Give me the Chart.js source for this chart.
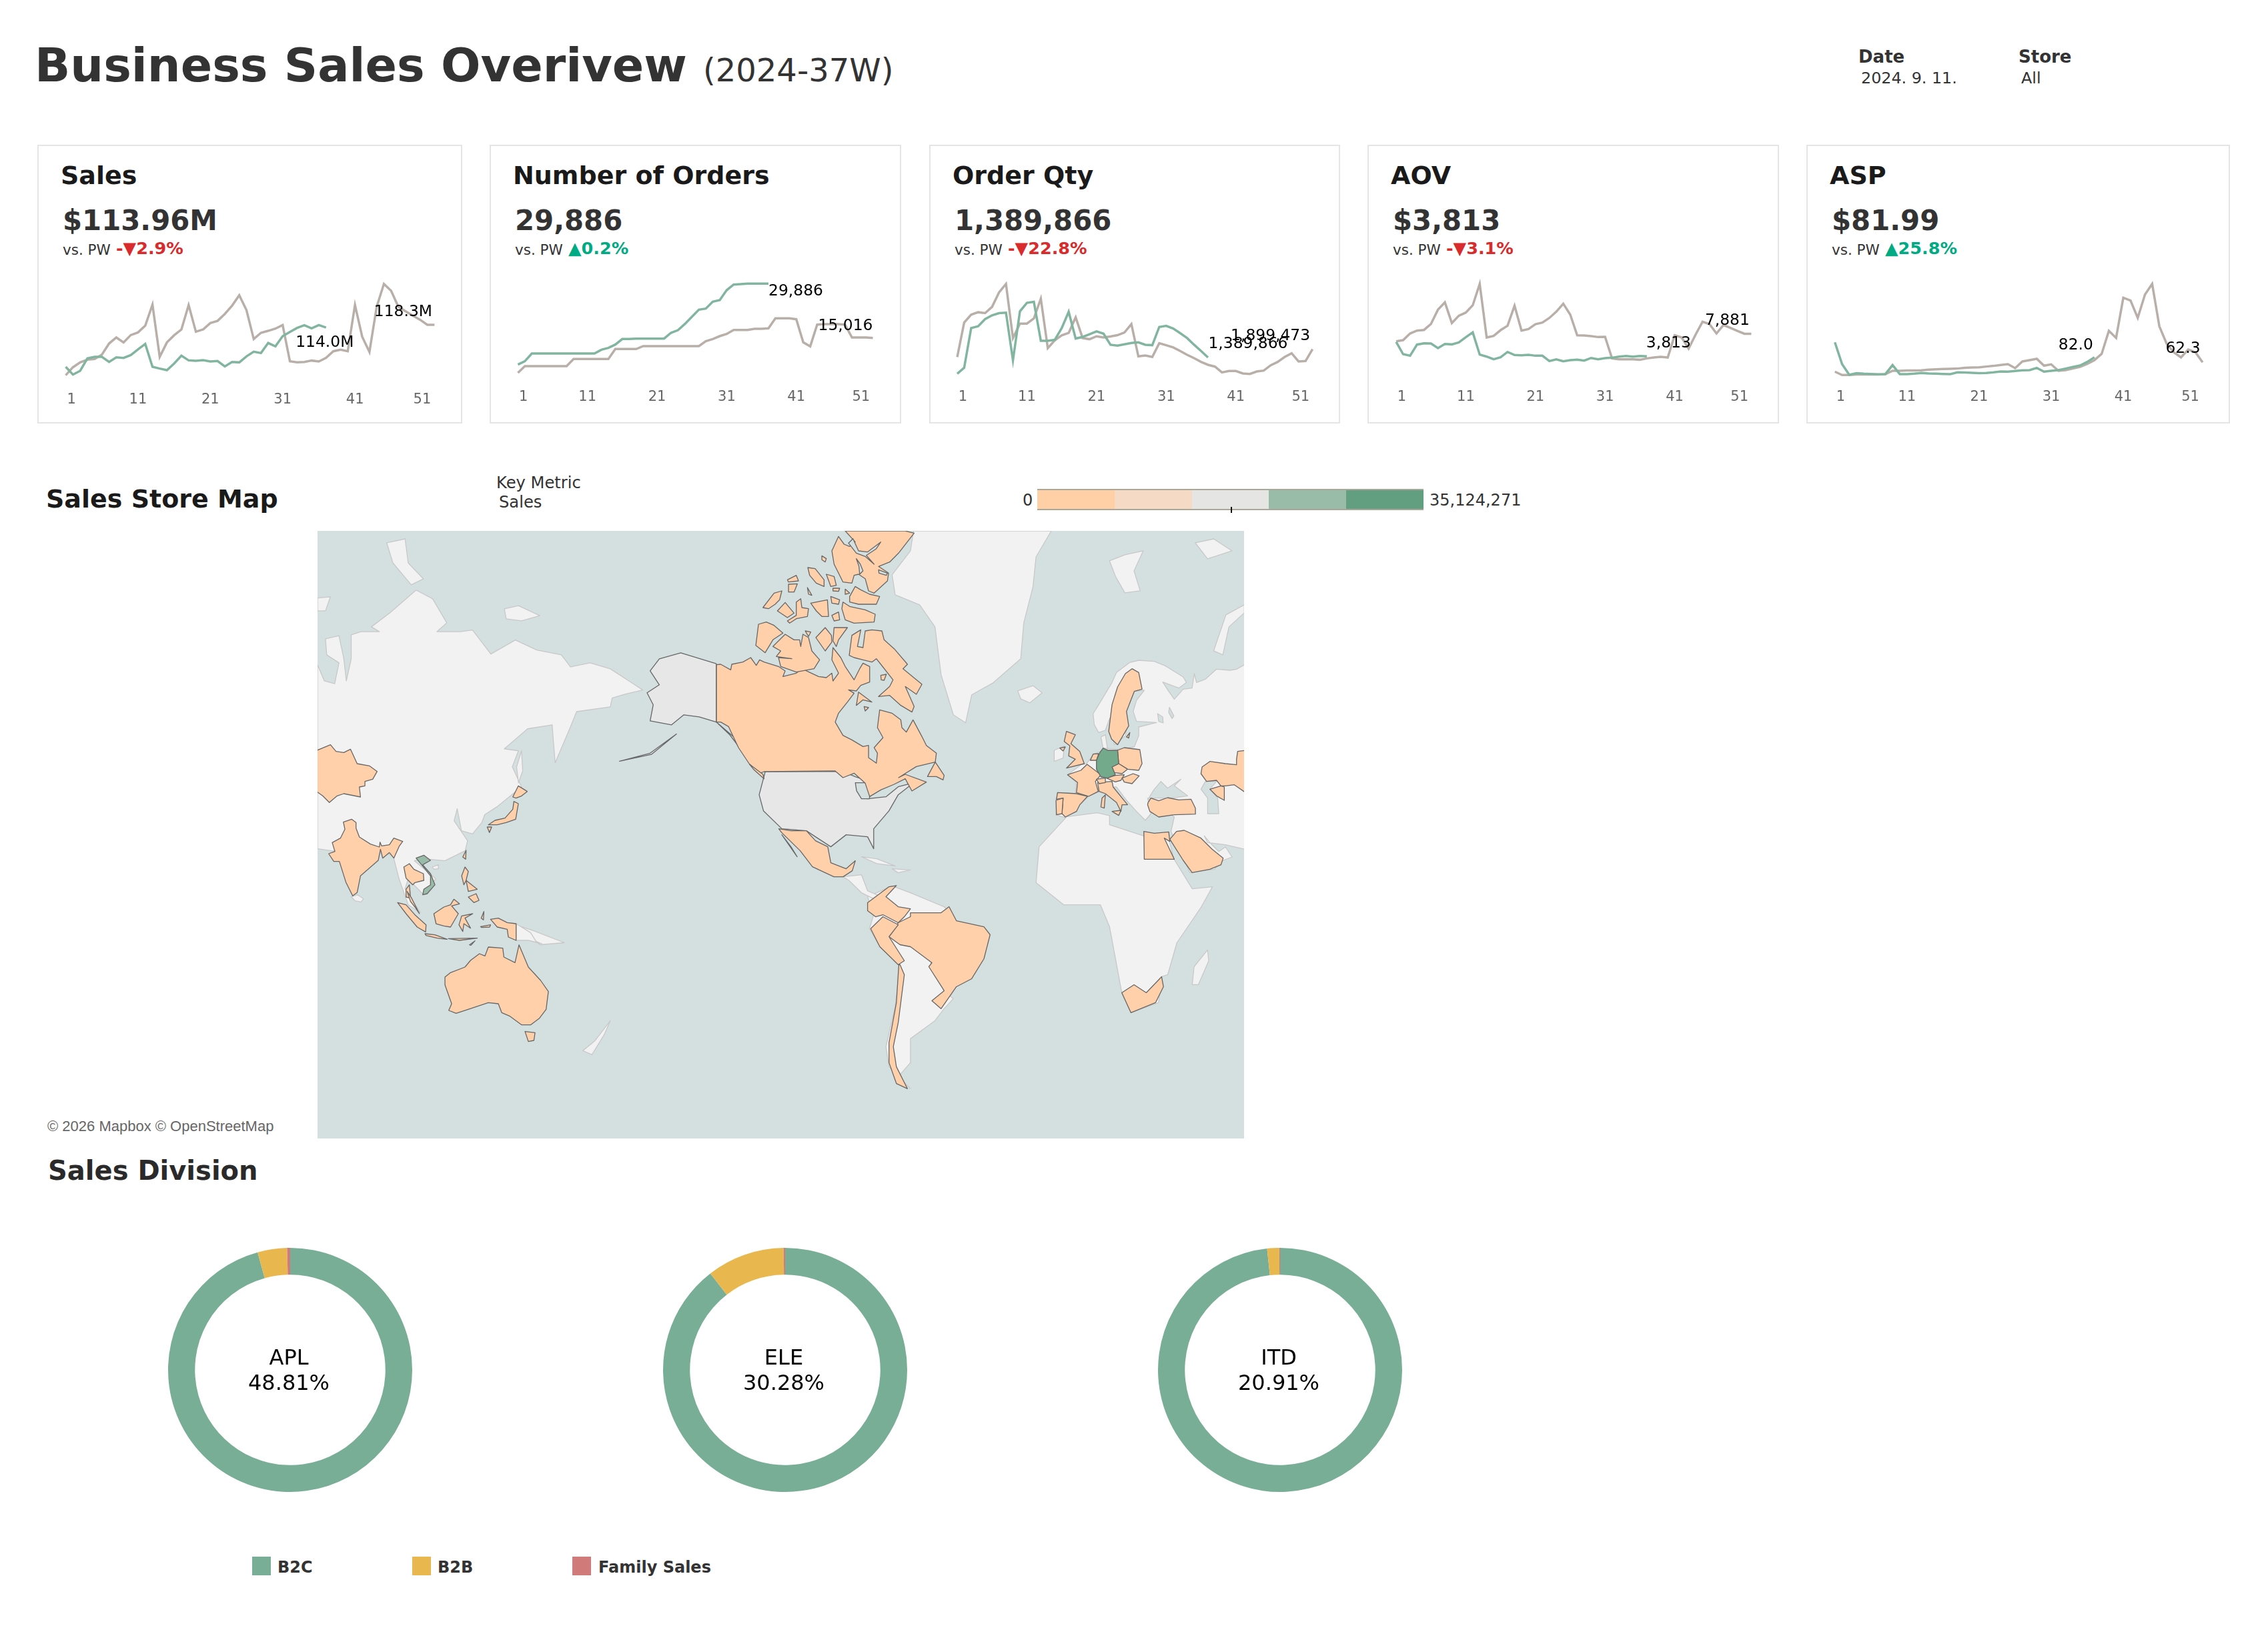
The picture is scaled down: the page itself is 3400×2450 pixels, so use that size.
<!DOCTYPE html>
<html>
<head>
<meta charset="utf-8">
<title>Business Sales Overview</title>
<script src="https://cdn.jsdelivr.net/npm/chart.js@4"></script>
<style>
  html, body { margin: 0; padding: 0; background: #fff; }
  body { position: relative; width: 3400px; height: 2450px; overflow: hidden; font-family: "DejaVu Sans", sans-serif; }
  .txt { position: absolute; line-height: 1; white-space: pre; }
  .card { position: absolute; box-sizing: border-box; border: 2px solid #e5e5e5; }
  canvas { position: absolute; }
  .legend-bar { position: absolute; left: 1555px; top: 733px; width: 579px; height: 32px; box-sizing: border-box; display: flex; border-top: 2px solid #aaa698; border-bottom: 2px solid #aaa698; }
  .legend-bar div { flex: 1; }
  .swatch { position: absolute; width: 28px; height: 28px; top: 2334px; }
</style>
</head>
<body>
<script>
// ---- data ----
const weeks = [1,2,3,4,5,6,7,8,9,10,11,12,13,14,15,16,17,18,19,20,21,22,23,24,25,26,27,28,29,30,31,32,33,34,35,36,37,38,39,40,41,42,43,44,45,46,47,48,49,50,51,52];
const tickWeeks = [1, 11, 21, 31, 41, 51];

const salesNow = [50.6,38.1,44.2,64.2,66.7,66.7,58.5,66.0,65.0,69.6,78.6,87.5,50.6,47.8,45.3,56.0,68.5,61.0,60.3,61.4,59.2,60.0,51.3,58.5,57.8,67.5,75.0,72.8,89.0,83.6,100.0,106.8,113.3,117.6,112.6,117.9,114.0];
const salesPrev = [37.0,49.9,57.8,62.1,63.2,70.3,88.2,97.9,90.0,101.8,106.1,116.9,150.9,66.7,90.0,101.5,110.8,150.2,107.2,110.8,121.2,124.7,135.8,149.1,165.9,141.9,95.4,105.4,108.6,112.2,117.9,59.6,57.8,58.5,60.7,59.2,65.0,75.7,78.2,75.7,150.2,99.0,74.6,147.3,184.2,173.1,147.3,140.1,133.0,126.5,118.3,118.3];

const ordersNow = [7708,8621,10753,10753,10753,10753,10753,10753,10753,10753,10753,10753,11788,12275,13189,14711,14711,14833,14833,14833,14833,14833,16417,17148,18853,20802,22750,23055,24943,25369,28110,29632,29754,29886,29886,29886,29886];
const ordersPrev = [5455,7282,7282,7282,7282,7282,7282,7282,9230,9230,9230,9230,9230,9230,11971,11971,11971,11971,12763,12763,12763,12763,12763,12763,12763,12763,12763,14102,14711,15503,16112,17208,17208,17208,17513,17513,17635,20375,20375,20375,20132,13798,12702,18670,18792,18792,18792,18670,15138,15138,15138,15016];

// order qty in thousands
const qtyNow = [385,757,3208,3318,3758,3993,4130,4158,1211,4240,4764,4833,2423,2423,2478,3208,4213,2560,2657,2822,3001,2863,2175,2120,2202,2285,2326,2175,2147,3276,3345,3180,2891,2588,2175,1789,1390];
const qtyPrev = [1418,3552,4034,4185,4130,4516,5411,5934,2588,3483,3483,3800,5025,1968,2450,2753,2905,3869,2588,2519,2698,2629,2684,2767,2932,3456,1459,1514,1418,2271,2147,2010,1789,1555,1349,1115,936,825,467,550,550,399,371,522,578,908,1115,1418,1652,1142,1170,1899];

const aovNow = [6407,4212,3933,5928,6167,6127,5289,6047,5968,6327,7244,8122,4132,3773,3294,3653,4611,4052,4013,4092,3933,3933,2975,3294,2935,3135,3214,3055,3534,3294,3494,3574,3773,3893,3773,3893,3813];
const aovPrev = [6526,6726,7923,8441,8561,9638,12192,13509,9798,11115,11673,12990,16820,7205,7484,8521,9319,12910,8441,8721,9599,9878,10716,11833,13269,11314,7604,7564,7444,7284,7324,3454,3294,3294,3294,3214,3454,3613,3733,3613,7604,7205,5210,7723,10037,9599,7923,9439,8920,8402,7881,7881];

const aspNow = [139.4,55.4,14.3,20.3,18.6,17.7,16.0,16.9,52.0,16.9,16.9,18.6,21.2,19.4,18.6,17.7,16.9,23.7,22.9,22.0,20.3,21.2,23.7,27.2,26.3,28.9,31.4,32.3,40.9,26.3,29.7,32.3,38.3,44.3,50.3,64.0,82.0];
const aspPrev = [26.3,13.4,13.4,15.2,15.2,15.2,15.2,16.9,29.7,29.7,30.6,30.6,31.4,34.0,35.7,36.6,37.4,38.3,40.9,42.6,43.4,46.0,48.6,52.0,55.4,40.0,65.7,70.9,76.0,49.4,54.6,29.7,32.3,38.3,45.1,56.3,70.9,94.9,184.0,156.6,311.7,300.5,233.7,323.7,364.8,201.1,135.1,100.9,81.1,112.0,100.9,62.3];

const divisionNames = ["APL", "ELE", "ITD"];
const divisionShares = ["48.81%", "30.28%", "20.91%"];
const channelNames = ["B2C", "B2B", "Family Sales"];
const aplChannels = [95.7, 3.9, 0.4];
const eleChannels = [89.5, 10.3, 0.2];
const itdChannels = [98.3, 1.6, 0.1];

// map outlines, as x,y pairs; each group has its own sheet
const z6Land = [
  [17,805,17,345,28,385,45,392,52,340,32,320,30,280,52,272,60,330,64,385,72,330,72,270,88,262,118,262,105,250,135,215,178,158,205,180,228,240,212,262,250,262,270,258,300,318,340,283,375,308,415,320,430,350,462,340,495,355,530,390,548,408,520,418,498,428,495,450,440,462,430,500,405,590,402,535,400,495,360,505,322,555,345,560,335,600,350,650,310,700,290,720,285,740,270,768,252,760,245,705,240,735,262,785,258,810,225,835,190,830,175,835,210,880,190,920,165,880,160,905,185,965,165,945,150,880,140,820,120,815,40,810],
  [1215,10,1190,75,1185,150,1170,240,1165,330,1120,390,1085,420,1075,490,1055,470,1035,370,1025,250,1000,195,960,170,955,120,985,60,990,10],
  [1240,725,1290,715,1310,722,1310,745,1370,775,1405,770,1415,830,1445,905,1478,900,1460,950,1420,1040,1405,1120,1395,1125,1390,1190,1345,1215,1330,1165,1310,1000,1295,945,1235,945,1190,890,1195,800],
  [915,925,955,898,985,915,1040,950,1060,985,985,975,965,995,950,1025,968,1045,1015,1045,1020,1110,1040,1160,1055,1180,1040,1205,1025,1235,985,1280,985,1340,965,1375,985,1405,950,1350,945,1300,960,1200,968,1095,935,1050,918,1005,925,970],
  [875,875,905,870,915,910,930,920,945,925,925,930,905,915,885,885],
  [905,825,930,830,960,848,930,842],[955,855,985,858,965,865],
  [1160,410,1185,397,1200,415,1180,440,1165,430],
  [1310,85,1335,70,1365,60,1350,110,1360,160,1335,165,1320,125],
  [1480,310,1500,220,1530,195,1530,215,1505,250,1495,320],
  [1450,40,1480,30,1510,60,1470,80],
  [130,40,160,30,165,90,190,130,170,145,140,90],
  [322,205,345,197,380,222,350,235,325,230],
  [17,178,38,175,30,210,17,210],
  [72,925,82,920,92,930,88,938,78,935],
  [1445,1145,1448,1100,1470,1058,1472,1085,1455,1145],
  [450,1310,470,1285,495,1235,485,1270,465,1320],
  [380,1045,340,995,370,1010,420,1040],
  [350,560,352,610,345,640,342,600],
  [1378,1175,1390,1170,1385,1185]
];
const z9Land = [
  [925,15,880,40,850,45,790,40,740,85,700,100,690,60,680,125,640,130,600,175,575,140,548,98,620,125,655,100,640,75,560,25,510,5,440,0,400,10,340,55,320,100,260,200,235,240,240,290,260,325,290,315,310,260,330,380,380,340,390,280,375,240,420,140,465,135,430,180,415,230,430,275,520,280,440,300,440,340,420,390,345,400,280,395,270,345,290,335,300,400,240,420,205,465,180,470,120,515,160,550,155,600,75,595,68,695,110,708,175,650,215,612,265,590,320,570,340,570,385,630,430,680,470,720,495,690,480,620,600,705,585,770,670,955,780,940,820,900,860,885,830,840,800,860,760,820,735,790,750,820,830,830,925,852],
  [60,405,105,385,100,440,60,455]
];
const z9Water = [
  [485,620,510,580,540,545,570,575,630,535,600,565,660,610,585,620,530,620],
  [740,545,790,545,760,580,795,620,800,690,750,690,750,620,720,580],
  [525,240,548,255,550,282,530,275],[578,212,598,250,590,262,575,235]
];
const z6Water = [
  [895,640,920,640,918,680,905,680,897,660]
];
const z10Water = [
  [595,35,620,90,660,95,720,50,700,80,655,110,690,150,650,115,610,100,575,55],
  [610,125,628,150,640,180,625,195,622,160],
  [710,175,750,190,745,200,712,190]
];
const z6Stores = [
  [985,975,985,965,1035,965,1048,950,1060,985,1105,1000,1115,1020,1105,1080,1085,1130,1060,1150,1035,1205,1020,1185,1040,1160,1015,1100,1020,1090,985,1050,968,1045,950,1025,965,990],
  [920,1005,940,975,965,995,950,1025,975,1085,965,1095,935,1050],
  [915,940,950,900,962,897,945,925,965,950,985,955,975,975,965,990,940,970,928,975,915,960],
  [968,1095,975,1120,965,1240,957,1300,962,1350,980,1405,962,1392,950,1340,950,1290,962,1190,966,1095],
  [770,755,790,760,815,760,830,785,850,800,855,840,880,855,895,835,890,860,875,875,860,875,825,850,805,810,775,765],
  [775,770,800,825,790,800],
  [1345,1215,1330,1165,1350,1145,1370,1165,1395,1125,1398,1150,1385,1190]
];
const z6Others = [
  [748,612,875,612,895,625,925,640,915,680,945,675,965,650,990,640,965,670,950,710,925,755,925,805,915,775,880,770,855,800,815,760,775,755,745,710,738,670],
  [668,342,610,315,575,330,560,360,575,395,555,415,565,445,560,485,595,495,615,470,640,475,668,488],
  [668,488,700,530,710,560,690,520],
  [510,586,560,566,603,518,562,569]
];
const z10Stores = [
  [-19,602,0,600,45,625,50,600,100,590,135,570,160,605,175,580,195,590,260,610,290,630,280,655,340,640,365,620,440,655,475,660,500,640,505,675,530,640,500,580,505,525,540,570,560,610,600,670,625,620,640,595,670,610,670,680,630,695,610,720,575,715,600,730,570,770,530,820,515,860,550,920,590,940,640,970,665,965,665,1020,700,1045,705,1000,690,975,730,930,705,885,715,805,770,820,810,850,815,885,835,905,865,850,905,925,925,965,970,1000,965,1040,880,1060,800,1110,830,1095,925,1130,860,1170,830,1115,780,1140,720,1165,670,1195,650,1135,600,1090,550,1110,515,1080,195,1083,175,1090,130,1050,80,975,35,880,0,860,-19,860],
  [930,1105,965,1040,1005,1100,1000,1120,970,1105],
  [130,1050,190,1095,195,1115,150,1075],
  [578,560,590,470,630,445,615,520,640,525,650,450,680,445,725,450,735,490,780,530,840,600,820,620,905,690,880,735,830,700,870,790,860,815,810,785,760,740,710,745,760,700,775,670,720,600,700,575,680,590,640,580,600,570],
  [610,785,620,725,680,770,640,760],
  [235,520,290,465,330,490,355,490,360,520,370,465,395,480,410,540,445,580,420,620,340,635,270,610,260,570,320,575,250,565,270,540],
  [158,515,170,420,205,410,240,425,280,460,235,490,200,548],
  [428,480,470,435,498,470,500,500,470,540],
  [510,435,570,435,530,490,520,520,505,495],
  [550,320,580,340,650,355,695,375,690,410,600,415,560,400,545,350],
  [530,25,500,90,510,150,530,190,550,230,590,235,600,200,620,195,650,215,665,270,690,280,750,225,755,190,710,160,760,140,800,100,870,10,830,0,560,0,605,50,580,70,555,60],
  [190,345,240,280,275,270,265,310,245,330,215,350],
  [255,360,290,322,330,370,300,390],
  [300,405,340,380,340,320,360,305,365,345,395,350,390,385,340,395,310,415],
  [405,325,480,310,485,385,455,385,430,360],
  [495,295,535,310,530,330,500,325],
  [500,380,530,365,535,400,510,405],
  [580,295,605,250,630,265,670,285,715,295,700,330,620,330,580,320],
  [392,165,425,170,465,220,465,250,430,235,400,200],
  [475,195,510,205,520,245,495,250],
  [300,220,340,200,350,225,305,230],
  [305,240,345,238,330,275,305,275],
  [390,255,410,290,395,285],
  [505,258,535,258,530,272,505,270],
  [560,262,580,280,560,285],
  [380,450,405,455,395,475],
  [720,650,745,645,735,672,722,670],
  [645,790,665,795,650,810],
  [455,112,475,125,470,140,455,130]
];
const z9Stores = [
  [115,320,155,335,135,375,175,410,195,465,115,485,155,445,125,430,130,385,105,365],
  [85,395,110,390,100,408],
  [120,515,180,495,208,468,270,515,245,545,258,590,215,612,160,595,165,550],
  [75,595,160,600,210,612,175,650,160,680,110,705,95,690,100,620,70,625],
  [68,630,100,620,95,690,70,695],
  [255,550,320,545,325,570,390,650,365,650,360,680,340,640,290,600,262,590],
  [320,680,360,675,350,698],
  [275,620,290,605,285,665,270,660],
  [222,450,235,422,260,420,250,450],
  [345,405,375,393,445,402,455,465,440,495,390,490,350,465],
  [320,480,350,465,390,490,365,510,330,505],
  [295,530,335,518,375,515,360,540,335,547],
  [250,535,290,530,290,550,262,555],
  [365,530,415,510,442,520,410,555,375,548],
  [410,38,440,55,455,130,420,140,385,230,395,295,345,380,318,355,305,320,320,200,345,120,380,60],
  [385,345,400,325,395,350],
  [920,405,885,410,880,445,880,470,830,465,760,455,725,480,720,510,745,545,790,540,810,565,830,565,870,560,920,595],
  [760,580,810,565,825,570,825,630,790,610],
  [482,640,495,620,530,632,570,618,620,628,675,625,695,665,695,692,600,695,530,705,490,680,480,650],
  [463,770,510,778,575,772,580,815,555,800,600,895,465,895],
  [580,805,610,770,645,765,720,800,770,850,820,890,810,920,760,940,680,955,640,900]
];
const z9Germany = [280,395,300,405,345,405,350,465,320,480,335,515,300,530,270,525,250,490,250,450,265,415];
const z11Stores = [
  [0,75,60,50,85,80,120,85,150,70,180,135,235,145,270,170,250,205,215,215,215,235,190,240,195,285,120,270,90,280,55,310,25,280,0,262],
  [155,385,175,400,175,425,190,465,240,497,280,510,283,488,290,505,325,500,345,470,385,485,370,505,345,560,325,535,295,560,285,520,275,570,195,640,180,715,160,730,130,670,100,575,75,575,52,540,80,530,68,490,105,470,125,430,118,398],
  [390,600,415,585,435,610,478,630,480,660,440,670,430,680,400,650],
  [400,700,415,680,420,740,400,735],
  [405,710,425,740,460,810,440,780,420,755],
  [362,760,400,770,440,815,490,860,488,892,450,870,400,810],
  [485,900,530,905,585,925,540,920,490,908],
  [590,922,720,920,640,930],
  [525,810,570,780,600,770,615,745,640,765,605,775,635,810,600,870,570,865,535,855],
  [650,820,700,810,665,830,690,875,660,855,655,890,638,860],
  [650,640,665,600,680,620,670,660,660,680],
  [680,735,715,720,728,750,705,760],
  [670,660,720,700,680,710],
  [655,555,670,525,668,565],
  [880,285,905,235,945,260,920,280,895,290],
  [770,410,800,390,845,380,880,340,885,305,905,315,893,385,850,400,810,410],
  [765,420,785,420,775,445],
  [780,835,815,830,855,850,895,855,895,930,860,915,855,880,810,870],
  [735,868,780,860,776,870,740,872],[738,830,750,800,748,838],[685,950,710,932,692,952],
  [575,1095,600,1075,665,1050,690,1020,730,990,755,1000,770,960,835,965,840,1005,890,1030,908,950,950,1050,1005,1110,1040,1160,1030,1240,1000,1280,960,1310,920,1310,865,1270,830,1255,815,1215,770,1210,680,1240,625,1258,592,1245,605,1215,575,1130],
  [935,1340,980,1345,975,1380,950,1385]
];
const z11Land = [
  [895,855,960,895,985,935,1010,945,950,930,895,930],
  [518,600,545,590,545,608,525,610]
];
const z11Vietnam = [445,560,480,547,510,570,475,590,510,630,530,680,495,720,475,725,480,700,510,680,510,640,470,590];

// ---- helpers ----
Chart.defaults.font.family = "'DejaVu Sans', sans-serif";
Chart.defaults.animation = false;

function text(str, x, baseline, size, weight, color, family) {
  const el = document.createElement("div");
  el.className = "txt";
  el.textContent = str;
  el.style.left = x + "px";
  el.style.top = (baseline - 0.846 * size) + "px";
  el.style.fontSize = size + "px";
  el.style.fontWeight = weight;
  el.style.color = color;
  if (family) el.style.fontFamily = family;
  document.body.appendChild(el);
  return el;
}

function addCanvas(x, y, w, h) {
  const c = document.createElement("canvas");
  c.width = w;
  c.height = h;
  c.style.left = x + "px";
  c.style.top = y + "px";
  c.style.width = w + "px";
  c.style.height = h + "px";
  document.body.appendChild(c);
  return c;
}

// ---- header ----
text("Business Sales Overivew", 52, 122.7, 70, "bold", "#333");
text("(2024-37W)", 1054, 122, 48, "normal", "#333");
text("Date", 2786, 94, 26, "bold", "#333");
text("Store", 3026, 94, 26, "bold", "#333");
text("2024. 9. 11.", 2790, 126, 23.8, "normal", "#333");
text("All", 3030, 126, 23.8, "normal", "#333");

// ---- kpi cards ----
const GREEN_LINE = "#82b5a0";
const GRAY_LINE = "#b8afa9";
const cardTop = 217, cardBottom = 635;

const endLabels = {
  draw(chart) {
    const ctx = chart.ctx;
    const spec = chart.options.plugins.endLabels;
    ctx.save();
    ctx.font = "23.4px 'DejaVu Sans'";
    ctx.fillStyle = "#000";
    ctx.textAlign = "center";
    ctx.textBaseline = "middle";
    spec.forEach((s, i) => {
      const pts = chart.getDatasetMeta(i).data;
      const last = pts[pts.length - 1];
      ctx.fillText(s.text, last.x + s.dx, last.y + s.dy + 2);
    });
    ctx.restore();
  }
};

function kpiCard(o) {
  const box = document.createElement("div");
  box.className = "card";
  box.style.left = o.left + "px";
  box.style.top = cardTop + "px";
  box.style.width = (o.right - o.left) + "px";
  box.style.height = (cardBottom - cardTop) + "px";
  document.body.appendChild(box);

  const tx = o.left + 35;
  text(o.title, tx, 276, 38, "bold", "#1a1a1a");
  text(o.value, tx + 3, 345.7, 41.8, "bold", "#333");
  text("vs. PW", tx + 3, 381.7, 21.5, "normal", "#333");
  text(o.delta, tx + 83, 381.7, 25.5, "bold", o.up ? "#00ab84" : "#d92b2b");

  const canvas = addCanvas(o.left, cardTop, o.right - o.left, cardBottom - cardTop);
  const all = o.now.concat(o.prev);
  const axisH = cardBottom - o.plotBottom;
  new Chart(canvas, {
    type: "line",
    plugins: [{ id: "endLabels", afterDatasetsDraw: endLabels.draw }],
    data: {
      datasets: [
        { label: "2024", data: o.now.map((v, i) => ({ x: weeks[i], y: v })), borderColor: GREEN_LINE, borderWidth: 3.5, pointRadius: 0, clip: false },
        { label: "2023", data: o.prev.map((v, i) => ({ x: weeks[i], y: v })), borderColor: GRAY_LINE, borderWidth: 3.5, pointRadius: 0, clip: false }
      ]
    },
    options: {
      responsive: false,
      devicePixelRatio: 1,
      layout: { padding: { left: o.x1 - o.left, right: o.right - o.x52, top: o.plotTop - cardTop, bottom: 0 } },
      plugins: { legend: { display: false }, tooltip: { enabled: false }, endLabels: o.labels },
      scales: {
        x: {
          type: "linear",
          min: 1,
          max: 52,
          grid: { display: false },
          border: { display: false },
          afterFit: s => { s.height = axisH; },
          // first and last tick labels are pulled inwards, as on the card
          afterBuildTicks: s => { s.ticks = tickWeeks.map(t => ({ value: t === 1 ? 1.8 : t === 51 ? 50.3 : t })); },
          ticks: {
            autoSkip: false,
            maxRotation: 0,
            padding: o.labelY - o.plotBottom - 19,
            color: "#666",
            font: { size: 21 },
            callback: (v, i) => String(tickWeeks[i])
          }
        },
        y: { display: false, min: Math.min(...all), max: Math.max(...all) }
      }
    }
  });
}

kpiCard({ left: 56, right: 693, title: "Sales", value: "$113.96M", delta: "-▼2.9%", up: false, now: salesNow, prev: salesPrev,
  x1: 98.5, x52: 651.4, plotTop: 425.7, plotBottom: 562.7, labelY: 598,
  labels: [{ text: "114.0M", dx: -2, dy: 21 }, { text: "118.3M", dx: -47, dy: -21 }] });
kpiCard({ left: 734, right: 1351, title: "Number of Orders", value: "29,886", delta: "▲0.2%", up: true, now: ordersNow, prev: ordersPrev,
  x1: 776.4, x52: 1308.5, plotTop: 425.3, plotBottom: 559, labelY: 594,
  labels: [{ text: "29,886", dx: 41, dy: 10 }, { text: "15,016", dx: -41, dy: -20 }] });
kpiCard({ left: 1393, right: 2009, title: "Order Qty", value: "1,389,866", delta: "-▼22.8%", up: false, now: qtyNow, prev: qtyPrev,
  x1: 1435, x52: 1967.6, plotTop: 425.7, plotBottom: 560.7, labelY: 594,
  labels: [{ text: "1,389,866", dx: 60, dy: -22 }, { text: "1,899,473", dx: -63, dy: -22 }] });
kpiCard({ left: 2050, right: 2667, title: "AOV", value: "$3,813", delta: "-▼3.1%", up: false, now: aovNow, prev: aovPrev,
  x1: 2093, x52: 2625.4, plotTop: 425.7, plotBottom: 541.7, labelY: 594,
  labels: [{ text: "3,813", dx: 32.5, dy: -21 }, { text: "7,881", dx: -36, dy: -21 }] });
kpiCard({ left: 2708, right: 3343, title: "ASP", value: "$81.99", delta: "▲25.8%", up: true, now: aspNow, prev: aspPrev,
  x1: 2750.7, x52: 3302, plotTop: 425.7, plotBottom: 562.3, labelY: 594,
  labels: [{ text: "82.0", dx: -28, dy: -20 }, { text: "62.3", dx: -29.5, dy: -22 }] });

// ---- map heading and colour legend ----
text("Sales Store Map", 69, 761, 38, "bold", "#1a1a1a");
text("Key Metric", 744, 732, 24.2, "normal", "#333");
text("Sales", 748, 761, 24.2, "normal", "#333");
text("0", 1533, 758, 24, "normal", "#333");
text("35,124,271", 2143, 758, 24, "normal", "#333");

const bar = document.createElement("div");
bar.className = "legend-bar";
["#ffcfa6", "#f5dbc5", "#e5e5e3", "#98bca8", "#629e80"].forEach(c => {
  const d = document.createElement("div");
  d.style.background = c;
  bar.appendChild(d);
});
document.body.appendChild(bar);
const tick = document.createElement("div");
tick.style.cssText = "position:absolute;left:1845px;top:760px;width:2px;height:9px;background:#111";
document.body.appendChild(tick);

// ---- map, outlines go through the chart's own scales ----
const OCEAN = "#d4e0e0", LAND = "#f2f2f2", COAST = "#c8c8c8", STORE = "#ffd0a9", EDGE = "#666", OTHER = "#e7e7e7";
const sheetZ6 = (x, y) => ({ x: (x - 17) / 1.089, y: (y - 10) / 1.668 });
const sheetZ9 = (x, y) => ({ x: 1084.4 + x / 3, y: 194 + y / 3 });
const sheetZ10 = (x, y) => ({ x: 604.4 + x / 3, y: y / 3 });
const sheetZ11 = (x, y) => ({ x: -0.6 + x / 3, y: 304 + y / 3 });

function shape(flat, sheet, fill, stroke) {
  const pts = [];
  for (let i = 0; i < flat.length; i += 2) pts.push(sheet(flat[i], flat[i + 1]));
  return { data: pts, backgroundColor: fill, borderColor: stroke, pointRadius: 0 };
}

const mapSets = [
  ...z6Land.map(s => shape(s, sheetZ6, LAND, COAST)),
  ...z9Land.map(s => shape(s, sheetZ9, LAND, COAST)),
  ...z11Land.map(s => shape(s, sheetZ11, LAND, COAST)),
  ...z9Water.map(s => shape(s, sheetZ9, OCEAN, COAST)),
  ...z6Others.map(s => shape(s, sheetZ6, OTHER, EDGE)),
  ...z6Water.map(s => shape(s, sheetZ6, OCEAN, EDGE)),
  ...z6Stores.map(s => shape(s, sheetZ6, STORE, EDGE)),
  ...z10Stores.map(s => shape(s, sheetZ10, STORE, EDGE)),
  ...z10Water.map(s => shape(s, sheetZ10, OCEAN, EDGE)),
  ...z9Stores.map(s => shape(s, sheetZ9, STORE, EDGE)),
  ...z11Stores.map(s => shape(s, sheetZ11, STORE, EDGE)),
  shape(z9Germany, sheetZ9, "#74aa8c", EDGE),
  shape(z11Vietnam, sheetZ11, "#98bca8", EDGE)
];

const polygons = {
  id: "polygons",
  afterDatasetsDraw(chart) {
    const ctx = chart.ctx, a = chart.chartArea;
    ctx.save();
    ctx.beginPath();
    ctx.rect(a.left, a.top, a.right - a.left, a.bottom - a.top);
    ctx.clip();
    ctx.lineJoin = "round";
    chart.data.datasets.forEach((ds, i) => {
      const pts = chart.getDatasetMeta(i).data;
      ctx.beginPath();
      pts.forEach((p, k) => k ? ctx.lineTo(p.x, p.y) : ctx.moveTo(p.x, p.y));
      ctx.closePath();
      ctx.fillStyle = ds.backgroundColor;
      ctx.fill();
      ctx.lineWidth = 1.3;
      ctx.strokeStyle = ds.borderColor;
      ctx.stroke();
    });
    ctx.restore();
  }
};

const mapCanvas = addCanvas(476, 796, 1389, 911);
mapCanvas.style.background = OCEAN;
new Chart(mapCanvas, {
  type: "scatter",
  plugins: [polygons],
  data: { datasets: mapSets },
  options: {
    responsive: false,
    devicePixelRatio: 1,
    layout: { padding: 0 },
    plugins: { legend: { display: false }, tooltip: { enabled: false } },
    scales: {
      x: { type: "linear", display: false, min: 0, max: 1389 },
      y: { type: "linear", display: false, min: 0, max: 911, reverse: true }
    }
  }
});

text("© 2026 Mapbox © OpenStreetMap", 71, 1697, 22, "normal", "#666", "'Liberation Sans', sans-serif");

// ---- sales division ----
text("Sales Division", 72, 1769, 40, "bold", "#2a2a2a");

const channelColors = ["#78ae95", "#e8b84f", "#d07a7a"];
[aplChannels, eleChannels, itdChannels].forEach((vals, i) => {
  const cx = 435 + 742 * i, cy = 2054;
  const canvas = addCanvas(cx - 183, cy - 183, 366, 366);
  new Chart(canvas, {
    type: "doughnut",
    data: { labels: channelNames, datasets: [{ data: vals, backgroundColor: channelColors, borderWidth: 0 }] },
    options: {
      responsive: false,
      devicePixelRatio: 1,
      cutout: "78%",
      layout: { padding: 0 },
      plugins: { legend: { display: false }, tooltip: { enabled: false } }
    }
  });
  const name = text(divisionNames[i], cx - 102, 2046, 32, "normal", "#000");
  const share = text(divisionShares[i], cx - 102, 2084, 32, "normal", "#000");
  [name, share].forEach(el => { el.style.width = "200px"; el.style.textAlign = "center"; });
});

[[378, 416], [618, 656], [858, 897]].forEach((pos, i) => {
  const s = document.createElement("div");
  s.className = "swatch";
  s.style.left = pos[0] + "px";
  s.style.background = channelColors[i];
  document.body.appendChild(s);
  text(channelNames[i], pos[1], 2358, 24, "bold", "#333");
});
</script>
</body>
</html>
